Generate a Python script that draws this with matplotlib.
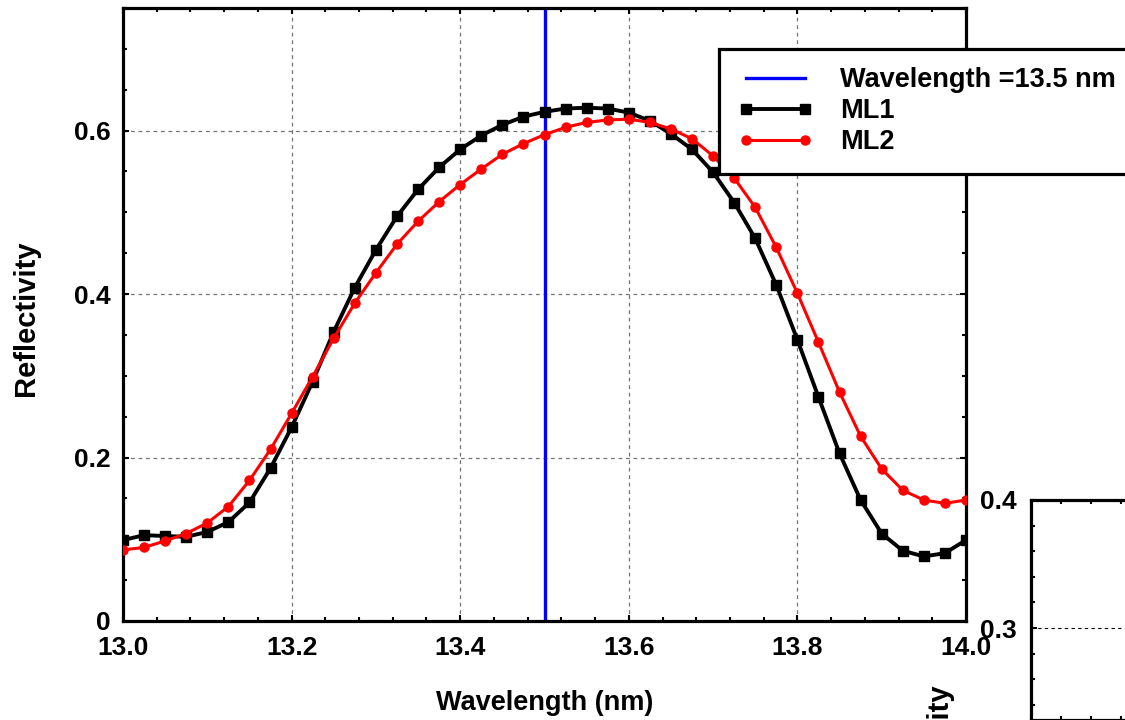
import matplotlib
matplotlib.use("Agg")
import matplotlib.pyplot as plt
from matplotlib.ticker import MultipleLocator, FixedLocator

plt.rcParams['font.family'] = ['Liberation Sans', 'DejaVu Sans']
plt.rcParams['font.weight'] = 'bold'

# ---------------- data ----------------
wavelength = [13.000, 13.025, 13.050, 13.075, 13.100, 13.125, 13.150, 13.175,
              13.200, 13.225, 13.250, 13.275, 13.300, 13.325, 13.350, 13.375,
              13.400, 13.425, 13.450, 13.475, 13.500, 13.525, 13.550, 13.575,
              13.600, 13.625, 13.650, 13.675, 13.700, 13.725, 13.750, 13.775,
              13.800, 13.825, 13.850, 13.875, 13.900, 13.925, 13.950, 13.975,
              14.000]
ml1 = [0.099, 0.105, 0.104, 0.103, 0.109, 0.121, 0.145, 0.187,
       0.237, 0.293, 0.354, 0.408, 0.454, 0.495, 0.528, 0.555,
       0.577, 0.594, 0.607, 0.617, 0.623, 0.627, 0.628, 0.627,
       0.622, 0.612, 0.596, 0.577, 0.549, 0.512, 0.468, 0.411,
       0.344, 0.274, 0.205, 0.148, 0.107, 0.086, 0.079, 0.083,
       0.099]
ml2 = [0.087, 0.090, 0.098, 0.107, 0.120, 0.140, 0.172, 0.210,
       0.254, 0.299, 0.346, 0.389, 0.426, 0.461, 0.489, 0.513,
       0.534, 0.553, 0.571, 0.584, 0.595, 0.604, 0.610, 0.613,
       0.614, 0.610, 0.602, 0.590, 0.569, 0.542, 0.506, 0.457,
       0.401, 0.341, 0.280, 0.226, 0.186, 0.160, 0.148, 0.144,
       0.148]
marker_wavelength = 13.5
x_ticks = [13.0, 13.2, 13.4, 13.6, 13.8, 14.0]
x_tick_labels = ['13.0', '13.2', '13.4', '13.6', '13.8', '14.0']
y_ticks = [0.0, 0.2, 0.4, 0.6]
y_tick_labels = ['0', '0.2', '0.4', '0.6']
inset_y_ticks = [0.3, 0.4]
inset_y_tick_labels = ['0.3', '0.4']

FS_TICK = 19
FS_LEG = 19.5
FS_XLAB = 19.5
FS_YLAB = 21
W, H = 1125, 720

fig = plt.figure(figsize=(W / 100, H / 100), dpi=100)
fig.patch.set_facecolor('white')

# ---------------- main axes ----------------
ax = fig.add_axes([123 / W, 1 - 621 / H, 843 / W, 613 / H])
ax.set_xlim(13.0, 14.0)
ax.set_ylim(0, 0.75)

ax.xaxis.set_major_locator(FixedLocator(x_ticks))
ax.set_xticklabels(x_tick_labels)
ax.xaxis.set_minor_locator(MultipleLocator(0.04))
ax.yaxis.set_major_locator(FixedLocator(y_ticks))
ax.set_yticklabels(y_tick_labels)
ax.yaxis.set_minor_locator(MultipleLocator(0.05))

ax.tick_params(which='both', direction='in', top=True, right=True,
               width=1.5, labelsize=FS_TICK)
ax.tick_params(axis='x', pad=11)
ax.tick_params(axis='y', pad=9)
ax.tick_params(which='major', length=4)
ax.tick_params(which='minor', length=3)
for lab in ax.get_xticklabels() + ax.get_yticklabels():
    lab.set_fontweight('bold')
for sp in ax.spines.values():
    sp.set_linewidth(2.3)

ax.grid(True, which='major', color='0.45', linestyle=(0, (3, 3)), linewidth=0.9)
ax.set_axisbelow(True)

ax.axvline(marker_wavelength, color='#0000ff', lw=2.4, zorder=2,
           label='Wavelength =13.5 nm')
ax.plot(wavelength, ml1, '-s', color='black', lw=2.8, ms=6.5, zorder=3,
        label='ML1')
ax.plot(wavelength, ml2, '-o', color='#ff0000', lw=2.2, ms=6.5, zorder=4,
        label='ML2')

leg = ax.legend(loc='upper left', bbox_to_anchor=(719 / W, 1 - 49 / H),
                bbox_transform=fig.transFigure, borderaxespad=0,
                frameon=True, fancybox=False, framealpha=1, edgecolor='black',
                fontsize=FS_LEG, numpoints=2, handlelength=2.8,
                handletextpad=1.0, labelspacing=0.18, borderpad=0.68)
leg.get_frame().set_linewidth(2.3)
for t in leg.get_texts():
    t.set_fontweight('bold')
leg.set_zorder(10)

fig.text(26 / W, 1 - 318 / H, 'Reflectivity', rotation=90, ha='center',
         va='center', fontsize=FS_YLAB, fontweight='bold')
fig.text(544.5 / W, 1 - 703 / H, 'Wavelength (nm)', ha='center', va='center',
         fontsize=FS_XLAB, fontweight='bold')

# ---------------- partially visible second panel ----------------
ax2 = fig.add_axes([1031 / W, 0, 0.5, 1 - 500 / H])
ax2.set_ylim(0.4 - 220 / 1280, 0.4)
ax2.set_xlim(0, 562 / 30)
ax2.yaxis.set_major_locator(FixedLocator(inset_y_ticks))
ax2.set_yticklabels(inset_y_tick_labels)
ax2.yaxis.set_minor_locator(MultipleLocator(0.02))
ax2.xaxis.set_major_locator(MultipleLocator(5))
ax2.xaxis.set_minor_locator(MultipleLocator(1))
ax2.tick_params(which='both', direction='in', top=True, right=True,
                width=1.5, labelsize=FS_TICK, pad=10, labelbottom=False)
ax2.tick_params(which='major', length=4)
ax2.tick_params(which='minor', length=3)
for lab in ax2.get_yticklabels():
    lab.set_fontweight('bold')
for sp in ax2.spines.values():
    sp.set_linewidth(2.3)
ax2.yaxis.grid(True, which='major', color='black', linestyle=(0, (3, 3)),
               linewidth=0.8)

fig.text(939 / W, 1 - 761 / H, 'Reflectivity', rotation=90, ha='center',
         va='center', fontsize=FS_YLAB, fontweight='bold')

fig.savefig('out.png', dpi=100)
